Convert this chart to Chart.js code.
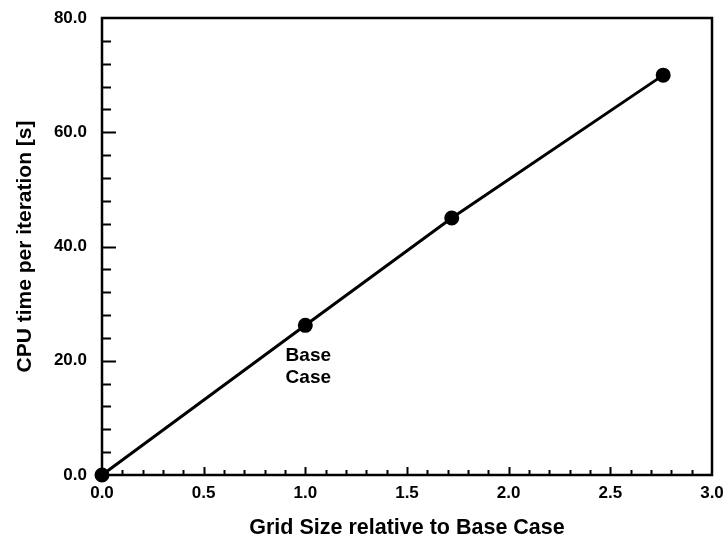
<!DOCTYPE html>
<html>
<head>
<meta charset="utf-8">
<script src="https://cdn.jsdelivr.net/npm/chart.js@4"></script>
<style>
  html, body { margin: 0; padding: 0; background: #fff; }
  #wrap { width: 725px; height: 542px; }
</style>
</head>
<body>
<div id="wrap"><canvas id="cpuChart"></canvas></div>
<script>
// grid size (relative to base case) and CPU time per iteration
const gridSize = [0.0, 1.0, 1.72, 2.76];
const cpuTime = [0.0, 26.2, 45.0, 70.0];

// axis ranges, labelled steps and minor tick steps
const xRange = [0, 3];
const yRange = [0, 80];
const xStep = 0.5, xMinor = 0.1;
const yStep = 20, yMinor = 4;

// note placed under the base case point
const noteAt = [1.0, 26.2];
const noteLines = ['Base', 'Case'];

const FONT = "'Liberation Sans', Arial, Helvetica, sans-serif";

// frame round the plot and inward pointing tick marks
const framePlugin = {
    id: 'frame',
    afterDraw(chart) {
        const ctx = chart.ctx;
        const a = chart.chartArea;
        const xs = chart.scales.x, ys = chart.scales.y;
        ctx.save();
        ctx.strokeStyle = '#000';
        ctx.lineWidth = 2.5;
        ctx.strokeRect(a.left, a.top, a.right - a.left, a.bottom - a.top);

        ctx.lineWidth = 2;
        ctx.beginPath();
        for (let i = 1; i < Math.round((xRange[1] - xRange[0]) / xMinor); i++) {
            const v = xRange[0] + i * xMinor;
            const px = Math.round(xs.getPixelForValue(v)) + 0.5;
            const major = i % Math.round(xStep / xMinor) === 0;
            ctx.moveTo(px, a.bottom);
            ctx.lineTo(px, a.bottom - (major ? 8 : 5));
        }
        for (let i = 1; i < Math.round((yRange[1] - yRange[0]) / yMinor); i++) {
            const v = yRange[0] + i * yMinor;
            const py = Math.round(ys.getPixelForValue(v)) + 0.5;
            const major = i % Math.round(yStep / yMinor) === 0;
            ctx.moveTo(a.left, py);
            ctx.lineTo(a.left + (major ? 14 : 9), py);
        }
        ctx.stroke();

        // base case note
        const nx = xs.getPixelForValue(noteAt[0]);
        const ny = ys.getPixelForValue(noteAt[1]);
        ctx.fillStyle = '#000';
        ctx.font = 'bold 19px ' + FONT;
        ctx.textAlign = 'center';
        ctx.textBaseline = 'middle';
        noteLines.forEach((t, i) => ctx.fillText(t, nx + 3, ny + 30 + i * 22));
        ctx.restore();
    }
};

new Chart(document.getElementById('cpuChart'), {
    type: 'scatter',
    data: {
        datasets: [{
            data: gridSize.map((x, i) => ({ x: x, y: cpuTime[i] })),
            showLine: true,
            borderColor: '#000',
            borderWidth: 3,
            backgroundColor: '#000',
            pointRadius: 6,
            pointHoverRadius: 6,
            clip: false
        }]
    },
    options: {
        responsive: true,
        maintainAspectRatio: false,
        animation: false,
        events: [],
        layout: { padding: { left: 0, top: 18, right: 13, bottom: 0 } },
        plugins: {
            legend: { display: false },
            tooltip: { enabled: false }
        },
        scales: {
            x: {
                type: 'linear',
                min: xRange[0],
                max: xRange[1],
                grid: { display: false, drawTicks: false },
                border: { display: false },
                ticks: {
                    stepSize: xStep,
                    padding: 8,
                    color: '#000',
                    font: { family: FONT, size: 17, weight: 'bold' },
                    maxRotation: 0,
                    callback: v => v.toFixed(1)
                },
                title: {
                    display: true,
                    text: 'Grid Size relative to Base Case',
                    color: '#000',
                    font: { family: FONT, size: 21.5, weight: 'bold' },
                    padding: { top: 0, bottom: 1 }
                },
                afterFit: s => {
                    s.height = 67;
                    s.paddingLeft = 0;
                    s.paddingRight = 0;
                }
            },
            y: {
                type: 'linear',
                min: yRange[0],
                max: yRange[1],
                grid: { display: false, drawTicks: false },
                border: { display: false },
                ticks: {
                    stepSize: yStep,
                    padding: 15,
                    color: '#000',
                    font: { family: FONT, size: 17, weight: 'bold' },
                    callback: v => v.toFixed(1)
                },
                title: {
                    display: true,
                    text: 'CPU time per iteration [s]',
                    color: '#000',
                    font: { family: FONT, size: 21, weight: 'bold' },
                    padding: { top: 13, bottom: 0 }
                },
                afterFit: s => {
                    s.width = 102;
                    s.paddingTop = 0;
                    s.paddingBottom = 0;
                }
            }
        }
    },
    plugins: [framePlugin]
});
</script>
</body>
</html>
